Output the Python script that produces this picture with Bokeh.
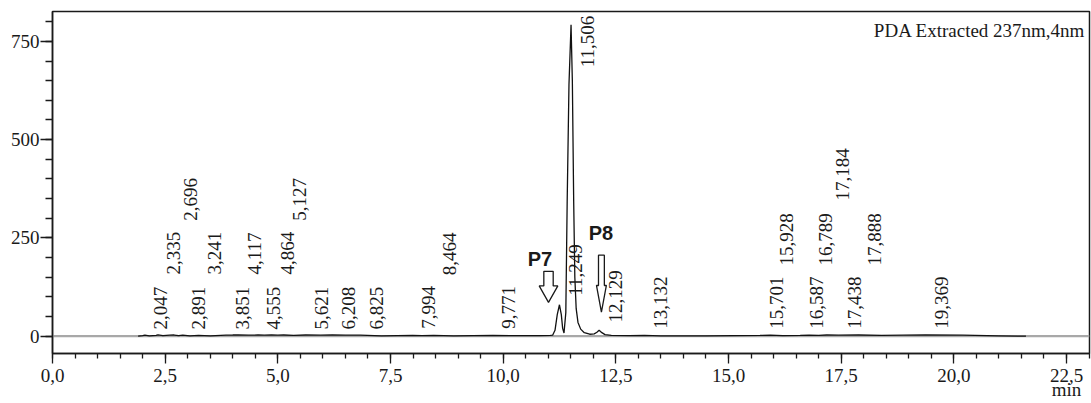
import math
from bokeh.plotting import figure
from bokeh.models import FixedTicker, CustomJSTickFormatter, Label, ColumnDataSource
from bokeh.core.properties import value
from bokeh.embed import file_html
from bokeh.resources import INLINE

# ---- data ----
trace_t = [1.90, 2.00, 2.05, 2.15, 2.30, 2.34, 2.45, 2.60, 2.70, 2.80,
           2.89, 3.05, 3.24, 3.50, 3.85, 4.00, 4.12, 4.35, 4.56, 4.70,
           4.86, 5.00, 5.13, 5.35, 5.62, 5.95, 6.21, 6.50, 6.83, 7.30,
           7.99, 8.20, 8.46, 8.90, 9.77, 10.20, 10.80, 11.05, 11.10, 11.15,
           11.20, 11.249, 11.29, 11.32, 11.35, 11.39, 11.42, 11.46, 11.506, 11.535,
           11.565, 11.59, 11.62, 11.66, 11.72, 11.80, 11.92, 12.02, 12.08, 12.129,
           12.19, 12.26, 12.40, 12.80, 13.132, 13.50, 14.50, 15.70, 15.93, 16.20,
           16.59, 16.79, 17.00, 17.18, 17.44, 17.89, 18.40, 19.37, 20.20, 21.00, 21.60]
trace_y = [0, 1.5, 3, 1, 2, 3.5, 1.5, 2.5, 3, 1.5,
           2.5, 1, 2, 1, 2.5, 3, 3.5, 2.5, 3, 2.5,
           3, 2.5, 3, 2, 3, 2.5, 3.5, 2.5, 2.5, 1,
           2, 1.5, 2, 1, 2, 1.5, 1.5, 2, 3, 15,
           55, 80, 55, 20, 8, 60, 340, 640, 792, 650,
           340, 150, 70, 35, 18, 9, 5, 6, 10, 15,
           9, 4, 2, 1.5, 2, 1, 1, 2, 2.5, 1.5,
           2, 2.5, 2, 3, 2.5, 3, 2, 3.5, 2.5, 1, 0]

peak_labels = ["2,047", "2,335", "2,696", "2,891", "3,241", "3,851", "4,117",
               "4,555", "4,864", "5,127", "5,621", "6,208", "6,825", "7,994",
               "8,464", "9,771", "11,249", "11,506", "12,129", "13,132", "15,701",
               "15,928", "16,587", "16,789", "17,184", "17,438", "17,888", "19,369"]
label_y = [17, 157, 294, 17, 157, 17, 157, 17, 157, 294, 17, 17, 17, 19,
           155, 19, 103, 684, 35, 19, 19,
           180, 19, 180, 345, 19, 180, 19]

x_ticks = [0, 2.5, 5, 7.5, 10, 12.5, 15, 17.5, 20, 22.5]
y_ticks = [0, 250, 500, 750]
x_unit = "min"

# annotations: name, text position, arrow (x, tip y, top y, head-start y, shaft half-w, head half-w)
ann_text = ["P7", "P8"]
ann_text_x = [10.817, 12.17]
ann_text_y = [196.5, 262.7]
arrow_x = [11.006, 12.18]
arrow_tip = [86, 61]
arrow_top = [165, 206]
arrow_head = [128, 129]
arrow_shaft_hw = [0.104, 0.065]
arrow_head_hw = [0.207, 0.11]

title_text = "PDA Extracted 237nm,4nm"

SERIF = "Liberation Serif"
INK = "#1a1a1a"

p = figure(width=1091, height=403, x_range=(0, 23.01), y_range=(-44, 826),
           output_backend="svg", toolbar_location=None,
           min_border_left=52, min_border_right=2, min_border_top=11, min_border_bottom=50)
p.grid.visible = False
p.background_fill_color = "white"
p.border_fill_color = "white"
p.outline_line_color = INK
p.outline_line_width = 1.5

xa = p.xaxis[0]
xa.ticker = FixedTicker(ticks=x_ticks, minor_ticks=[i * 0.5 for i in range(47)])
# the unit "min" sits under the last tick label, as in the original
xa.formatter = CustomJSTickFormatter(
    args=dict(last=x_ticks[-1], unit=x_unit),
    code="var s = tick.toFixed(1).replace('.', ',');"
         "return Math.abs(tick - last) < 1e-9 ? s + '\\n' + unit : s;")
xa.major_tick_in = 0
xa.major_tick_out = 10
xa.minor_tick_in = 0
xa.minor_tick_out = 5
xa.axis_line_width = 1.5
xa.axis_line_color = INK
xa.major_tick_line_color = INK
xa.minor_tick_line_color = INK
xa.major_tick_line_width = 1.3
xa.minor_tick_line_width = 1.3
xa.major_label_text_font = SERIF
xa.major_label_text_font_size = "19px"
xa.major_label_text_line_height = 0.7
xa.major_label_text_color = INK
xa.major_label_standoff = 1

ya = p.yaxis[0]
ya.ticker = FixedTicker(ticks=y_ticks, minor_ticks=[i * 50 for i in range(17)])
ya.major_tick_in = 0
ya.major_tick_out = 12
ya.minor_tick_in = 0
ya.minor_tick_out = 7
ya.axis_line_width = 1.5
ya.axis_line_color = INK
ya.major_tick_line_color = INK
ya.minor_tick_line_color = INK
ya.major_tick_line_width = 1.3
ya.minor_tick_line_width = 1.3
ya.major_label_text_font = SERIF
ya.major_label_text_font_size = "19px"
ya.major_label_text_color = INK
ya.major_label_standoff = 1

# baseline (grey) and trace (black)
p.line([0, 23.01], [0, 0], line_color="#a8a8a8", line_width=2.2)
p.line(trace_t, trace_y, line_color="#111111", line_width=1.3)

# peak retention-time labels
rt = [float(s.replace(",", ".")) for s in peak_labels]
src = ColumnDataSource(dict(x=rt, y=label_y, text=peak_labels))
p.text(x="x", y="y", text="text", source=src, angle=math.pi / 2,
       text_align="left", text_baseline="middle", x_offset=16,
       text_font=value(SERIF), text_font_size="19px", text_color=INK)

# hollow arrows
xs, ys = [], []
for ax, tip, top, head, shw, hhw in zip(arrow_x, arrow_tip, arrow_top, arrow_head,
                                         arrow_shaft_hw, arrow_head_hw):
    xs.append([ax - shw, ax + shw, ax + shw, ax + hhw, ax, ax - hhw, ax - shw])
    ys.append([top, top, head, head, tip, head, head])
p.patches(xs, ys, fill_color="white", line_color=INK, line_width=1.3)

for t, tx, ty in zip(ann_text, ann_text_x, ann_text_y):
    p.add_layout(Label(x=tx, y=ty, text=t, text_align="center", text_baseline="middle",
                       text_font="Liberation Sans", text_font_style="bold",
                       text_font_size="20px", text_color=INK))

p.add_layout(Label(x=22.92, y=778, text=title_text, text_align="right",
                   text_baseline="alphabetic", text_font=SERIF,
                   text_font_size="19px", text_color=INK))

open("out.html", "w").write(file_html(p, INLINE))
